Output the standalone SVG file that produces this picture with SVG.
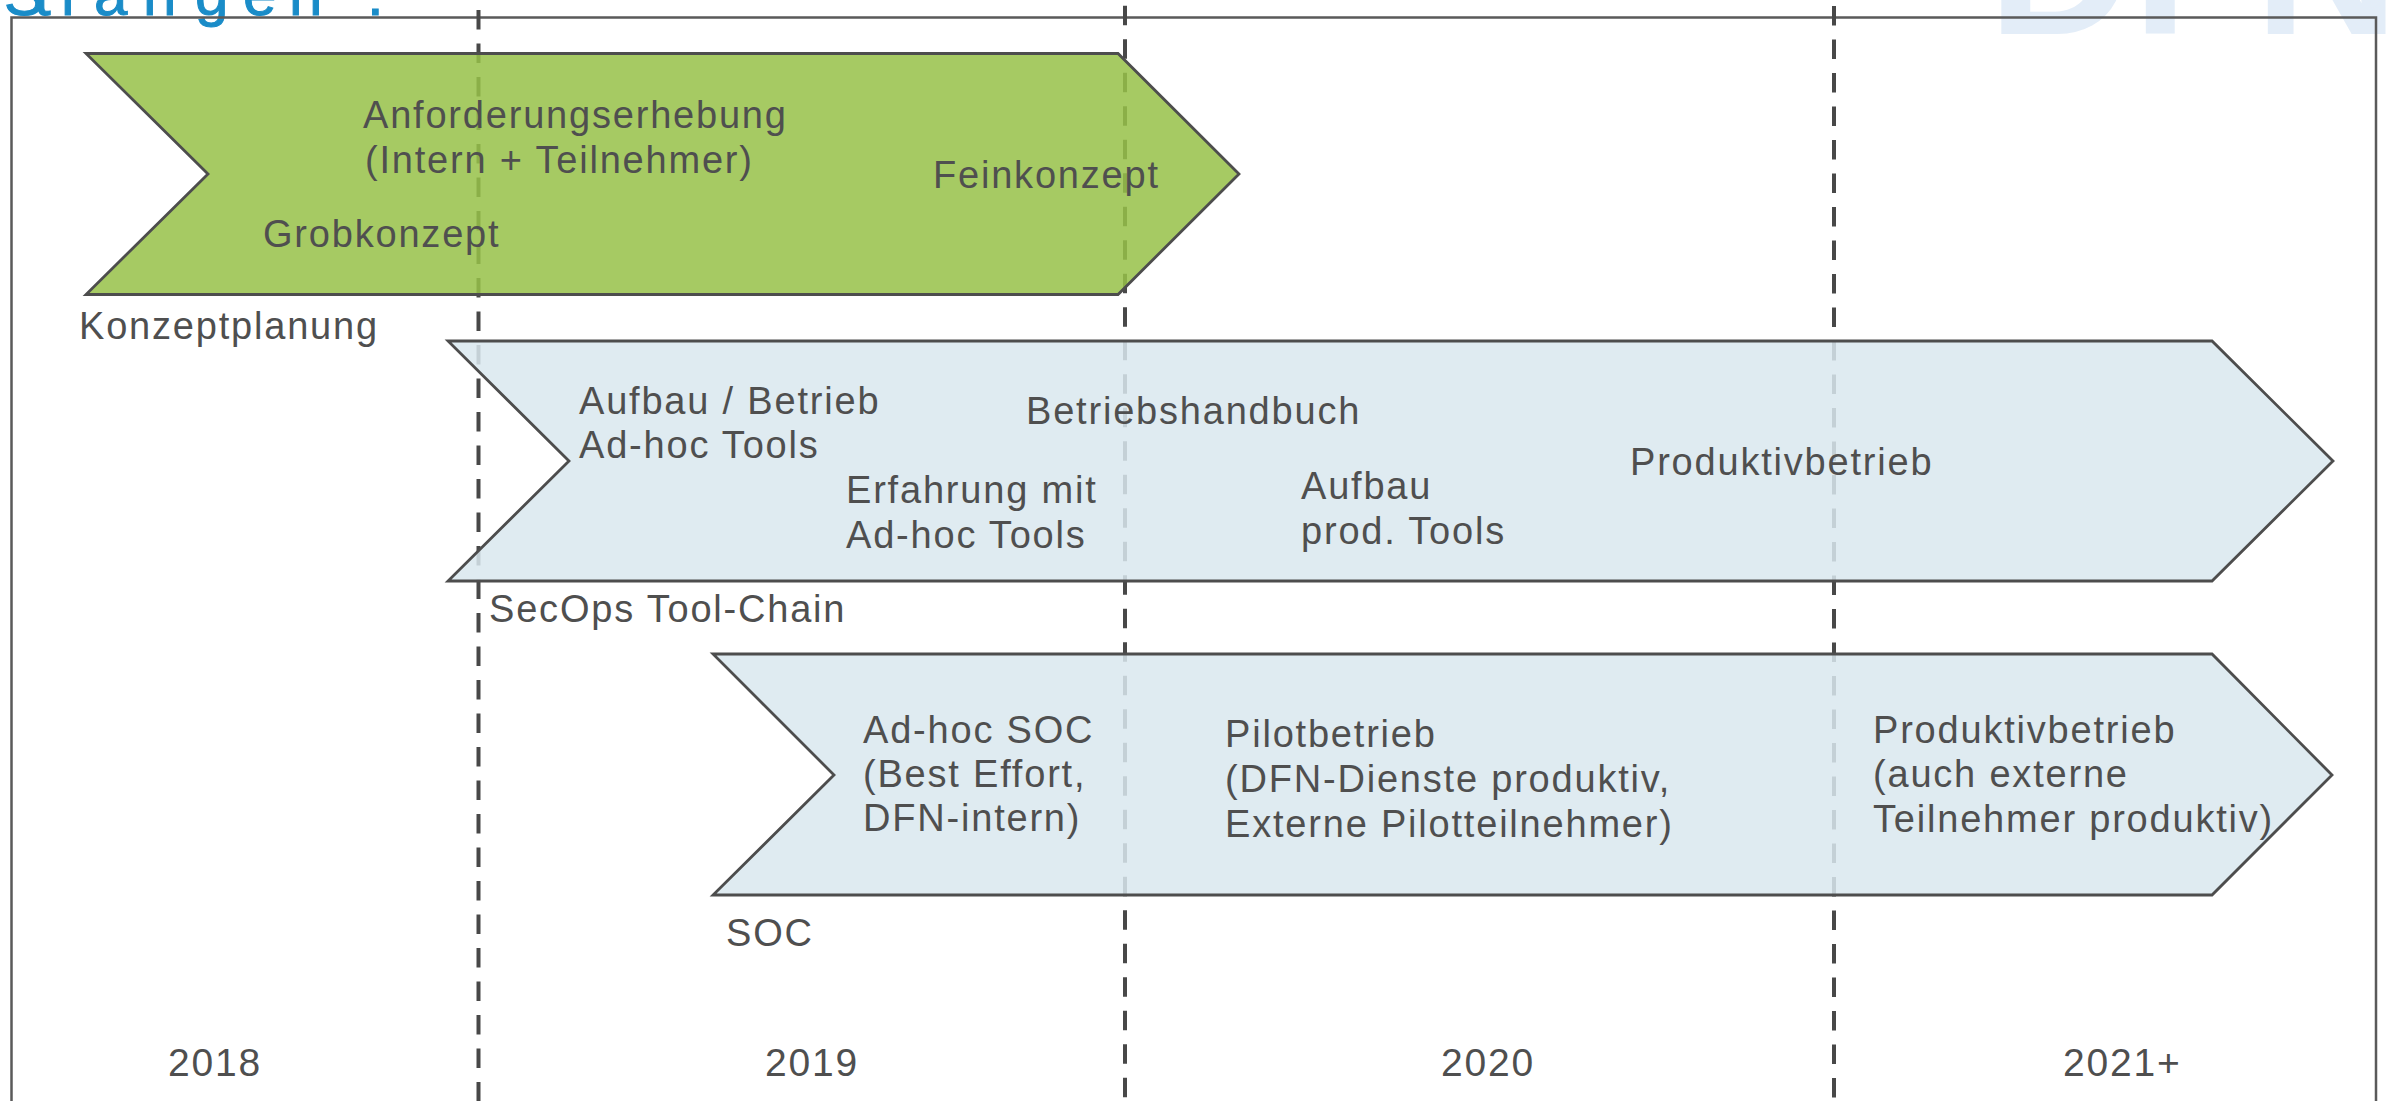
<svg xmlns="http://www.w3.org/2000/svg" width="2390" height="1101" viewBox="0 0 2390 1101">
  <style>
    .lbl { font-family: "Liberation Sans", Arial, sans-serif; font-size: 38px; fill: #4f4f4f; letter-spacing: 1.8px; }
    .year { font-family: "Liberation Sans", Arial, sans-serif; font-size: 39px; fill: #4f4f4f; letter-spacing: 1.8px; }
    .frame { fill: none; stroke: #5a5a5a; stroke-width: 2.5; }
    .divider { stroke: #484848; stroke-width: 4; stroke-dasharray: 19.5 14; fill: none; }
    .phase { stroke: #4d4d4d; stroke-width: 2.8; stroke-linejoin: miter; }
    .green { fill: #97c148; fill-opacity: 0.854; }
    .blue { fill: #dae8ef; fill-opacity: 0.854; }
  </style>

  <!-- background -->
  <rect x="0" y="0" width="2390" height="1101" fill="#ffffff"/>

  <!-- logo watermark, mostly above the visible area -->
  <text x="1988" y="34" font-family="'Liberation Sans', Arial, sans-serif" font-weight="bold" font-size="200" fill="#e3edf8">DFN</text>

  <!-- slide heading, only its lower part is visible -->
  <text y="14.5" font-family="'Liberation Sans', Arial, sans-serif" font-size="60" fill="#1a8cc8" stroke="#1a8cc8" stroke-width="1" x="4 34 61 94 143 195 243 289 367">Strängen:</text>

  <!-- outer frame -->
  <rect class="frame" x="11.5" y="17.5" width="2364.5" height="1120"/>

  <!-- year dividers -->
  <g id="year-dividers">
    <line class="divider" x1="478.5" y1="10" x2="478.5" y2="1101"/>
    <line class="divider" x1="1125" y1="5.8" x2="1125" y2="1101"/>
    <line class="divider" x1="1834" y1="6" x2="1834" y2="1101"/>
  </g>

  <!-- phase: concept planning -->
  <g id="konzeptplanung">
    <path class="phase green" d="M86,53.5 L1118,53.5 L1239,174 L1118,294.5 L86,294.5 L208,174 Z"/>
    <text class="lbl" x="363" y="128">Anforderungserhebung</text>
    <text class="lbl" x="365" y="173">(Intern + Teilnehmer)</text>
    <text class="lbl" x="263" y="247">Grobkonzept</text>
    <text class="lbl" x="933" y="188">Feinkonzept</text>
    <text class="lbl" x="79" y="339">Konzeptplanung</text>
  </g>

  <!-- phase: SecOps tool chain -->
  <g id="secops-tool-chain">
    <path class="phase blue" d="M448,341 L2212,341 L2333,461 L2212,581 L448,581 L569,461 Z"/>
    <text class="lbl" x="579" y="414">Aufbau / Betrieb</text>
    <text class="lbl" x="579" y="458">Ad-hoc Tools</text>
    <text class="lbl" x="1026" y="424">Betriebshandbuch</text>
    <text class="lbl" x="846" y="503">Erfahrung mit</text>
    <text class="lbl" x="846" y="548">Ad-hoc Tools</text>
    <text class="lbl" x="1301" y="499">Aufbau</text>
    <text class="lbl" x="1301" y="544">prod. Tools</text>
    <text class="lbl" x="1630" y="475">Produktivbetrieb</text>
    <text class="lbl" x="489" y="622">SecOps Tool-Chain</text>
  </g>

  <!-- phase: SOC -->
  <g id="soc">
    <path class="phase blue" d="M713,654 L2212,654 L2332,775 L2212,895 L713,895 L834,775 Z"/>
    <text class="lbl" x="863" y="743">Ad-hoc SOC</text>
    <text class="lbl" x="863" y="787">(Best Effort,</text>
    <text class="lbl" x="863" y="831">DFN-intern)</text>
    <text class="lbl" x="1225" y="747">Pilotbetrieb</text>
    <text class="lbl" x="1225" y="792">(DFN-Dienste produktiv,</text>
    <text class="lbl" x="1225" y="837">Externe Pilotteilnehmer)</text>
    <text class="lbl" x="1873" y="743">Produktivbetrieb</text>
    <text class="lbl" x="1873" y="787">(auch externe</text>
    <text class="lbl" x="1873" y="832">Teilnehmer produktiv)</text>
    <text class="lbl" x="726" y="946">SOC</text>
  </g>

  <!-- year labels -->
  <g id="years">
    <text class="year" x="168" y="1076">2018</text>
    <text class="year" x="765" y="1076">2019</text>
    <text class="year" x="1441" y="1076">2020</text>
    <text class="year" x="2063" y="1076">2021+</text>
  </g>
</svg>
